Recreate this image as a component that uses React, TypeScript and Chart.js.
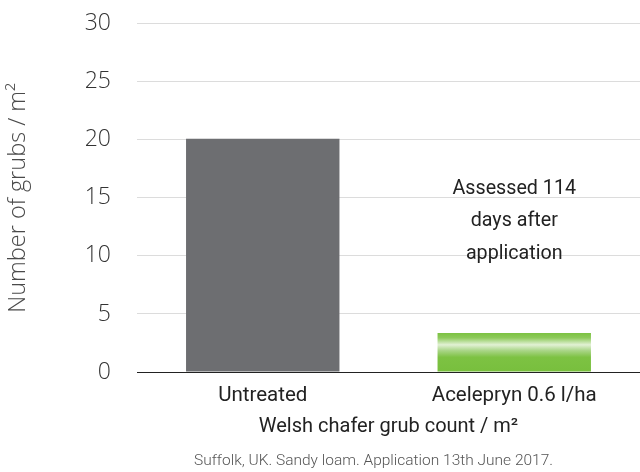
import React, { useEffect, useRef } from "react";
import { Chart, registerables } from "chart.js";

Chart.register(...registerables);

const categories = ["Untreated", "Acelepryn 0.6 l/ha"];
const grubCounts = [20.1, 3.35];
const yTicks = [0, 5, 10, 15, 20, 25, 30];
const annotationLines = ["Assessed 114", "days after", "application"];
const annotationY = [15.76, 12.98, 10.14];
const yTitle = "Number of grubs / m²";
const xTitle = "Welsh chafer grub count / m²";
const footnote = "Suffolk, UK. Sandy loam. Application 13th June 2017.";

const NARROW = "Roboto, 'Liberation Sans', sans-serif";
const LIGHT = "'Open Sans', Roboto, sans-serif";

export default function App() {
  const ref = useRef<HTMLCanvasElement | null>(null);

  useEffect(() => {
    document.body.style.margin = "0";
    if (!ref.current) return;

    const textPlugin = {
      id: "texts",
      afterDatasetsDraw(chart: any) {
        const { ctx, scales, chartArea } = chart;
        const x = scales.x.getPixelForValue(1);
        ctx.save();
        ctx.font = `400 19.7px ${NARROW}`;
        ctx.fillStyle = "#222";
        ctx.textAlign = "center";
        ctx.textBaseline = "middle";
        annotationLines.forEach((t, i) => {
          ctx.fillText(t, x, scales.y.getPixelForValue(annotationY[i]));
        });
        ctx.font = `300 15.5px ${NARROW}`;
        ctx.fillStyle = "#555";
        ctx.fillText(footnote, (chartArea.left + chartArea.right) / 2 - 15, chart.height - 11);
        ctx.restore();
      },
    };

    const chart = new Chart(ref.current, {
      type: "bar",
      data: {
        labels: categories,
        datasets: [
          {
            data: grubCounts,
            categoryPercentage: 1,
            barPercentage: 0.61,
            backgroundColor: (c: any) => {
              if (c.dataIndex === 0) return "#6d6e71";
              const chart = c.chart;
              const ys = chart.scales && chart.scales.y;
              if (!chart.chartArea || !ys) return "#7cc242";
              const top = ys.getPixelForValue(grubCounts[c.dataIndex]);
              const bottom = ys.getPixelForValue(0);
              const g = chart.ctx.createLinearGradient(0, top, 0, bottom);
              g.addColorStop(0, "#7cc242");
              g.addColorStop(0.12, "#8dca5a");
              g.addColorStop(0.3, "#e2f1d4");
              g.addColorStop(0.45, "#a9d587");
              g.addColorStop(0.62, "#7dc243");
              g.addColorStop(1, "#78bf3d");
              return g;
            },
          },
        ],
      },
      options: {
        responsive: true,
        maintainAspectRatio: false,
        animation: false,
        layout: { padding: { top: 23, right: 0, left: 0, bottom: 23 } },
        plugins: {
          legend: { display: false },
          tooltip: { enabled: false },
        },
        scales: {
          x: {
            grid: { display: false, drawTicks: false },
            border: { display: true, color: "#222", width: 1 },
            ticks: {
              color: "#222",
              padding: 14,
              font: { family: NARROW, size: 20.5, lineHeight: 1.0 },
            },
            title: {
              display: true,
              text: xTitle,
              color: "#222",
              font: { family: NARROW, size: 20 },
              padding: { top: -5.5, bottom: 10 },
            },
          },
          y: {
            min: 0,
            max: 30,
            afterBuildTicks: (s: any) => {
              s.ticks = yTicks.map((v) => ({ value: v }));
            },
            afterFit: (s: any) => {
              s.width = 137;
            },
            grid: {
              drawTicks: true,
              tickLength: 16,
              tickColor: "rgba(0,0,0,0)",
              color: (c: any) => (c.tick && c.tick.value === 0 ? "#222" : "#dcdcdc"),
              lineWidth: 1,
            },
            border: { display: false },
            ticks: {
              color: "#333",
              padding: 10,
              font: { family: LIGHT, size: 23, weight: "300" as any },
            },
            title: {
              display: true,
              text: yTitle,
              color: "#4a4a4a",
              font: { family: LIGHT, size: 23.5, weight: "300" as any },
              padding: { top: 4, bottom: 0 },
            },
          },
        },
      },
      plugins: [textPlugin],
    });
    return () => chart.destroy();
  }, []);

  return (
    <div style={{ position: "absolute", left: 0, top: 0, width: 640, height: 472 }}>
      <canvas ref={ref} />
    </div>
  );
}
